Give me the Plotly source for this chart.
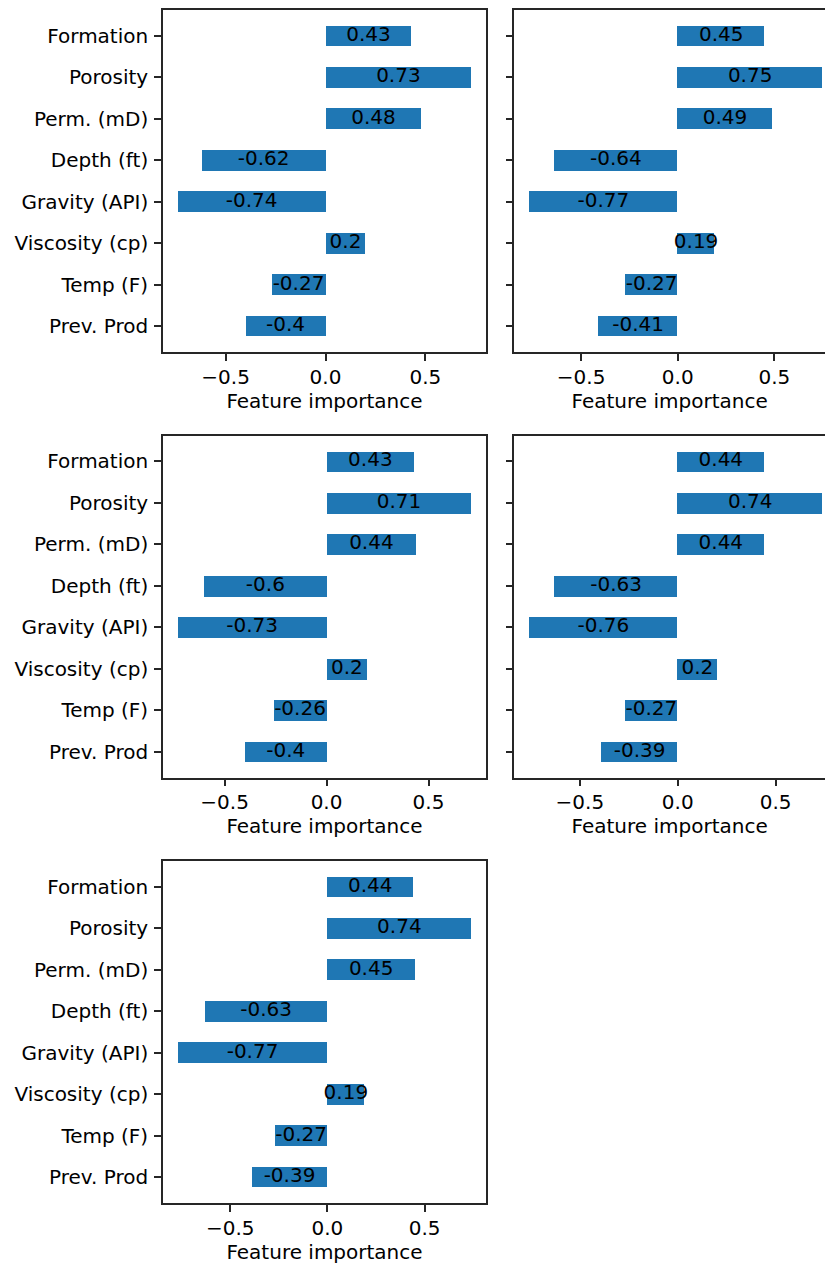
import plotly.graph_objects as go

# Features, listed from the top of each panel downwards
features = ["Formation", "Porosity", "Perm. (mD)", "Depth (ft)",
            "Gravity (API)", "Viscosity (cp)", "Temp (F)", "Prev. Prod"]

# Feature importance for each of the five models
model_1 = [0.43, 0.73, 0.48, -0.62, -0.74, 0.2, -0.27, -0.4]
model_2 = [0.45, 0.75, 0.49, -0.64, -0.77, 0.19, -0.27, -0.41]
model_3 = [0.43, 0.71, 0.44, -0.6, -0.73, 0.2, -0.26, -0.4]
model_4 = [0.44, 0.74, 0.44, -0.63, -0.76, 0.2, -0.27, -0.39]
model_5 = [0.44, 0.74, 0.45, -0.63, -0.77, 0.19, -0.27, -0.39]

x_ticks = [-0.5, 0.0, 0.5]
x_title = "Feature importance"

W, H = 825, 1264
FONT = "DejaVu Sans"
FS = 20
BAR = "#1f77b4"
INK = "#262626"

# panel frames in pixels: (left, top), width and height shared
panel_w, panel_h = 323, 342
frames = [(163, 10), (514.3, 10), (163, 435.5), (514.3, 435.5), (163, 861)]
models = [model_1, model_2, model_3, model_4, model_5]

# categories from bottom to top
cat_order = features[::-1]

fig = go.Figure()
layout = {}
for i, (vals, (left, top)) in enumerate(zip(models, frames)):
    n = i + 1
    xa = "x" if n == 1 else f"x{n}"
    ya = "y" if n == 1 else f"y{n}"
    lo = min(0, min(vals))
    hi = max(0, max(vals))
    pad = 0.05 * (hi - lo)
    lo, hi = lo - pad, hi + pad

    x0 = left / W
    x1 = (left + panel_w) / W
    if x1 > 1:
        # panel runs past the right edge of the page: clip the visible span
        hi = lo + (1 - x0) / (x1 - x0) * (hi - lo)
        x1 = 1.0
    y0 = 1 - (top + panel_h) / H
    y1 = 1 - top / H

    fig.add_trace(go.Bar(
        x=vals, y=features, orientation="h", width=0.5,
        marker=dict(color=BAR, line=dict(width=0)),
        xaxis=xa, yaxis=ya, hoverinfo="skip", showlegend=False,
    ))
    fig.add_trace(go.Scatter(
        x=[v / 2 for v in vals], y=features, mode="text",
        text=[f"{v:g}" for v in vals],
        textposition="middle center",
        textfont=dict(family=FONT, size=FS, color="black"),
        xaxis=xa, yaxis=ya, hoverinfo="skip", showlegend=False,
        cliponaxis=False,
    ))

    left_col = left < 300
    layout["xaxis" if n == 1 else f"xaxis{n}"] = dict(
        domain=[x0, x1], range=[lo, hi], anchor=ya,
        tickvals=x_ticks, tickformat=".1f",
        ticks="outside", ticklen=7, tickwidth=1.6, tickcolor=INK,
        showline=True, linewidth=1.6, linecolor=INK, mirror=True,
        showgrid=False, zeroline=False,
        ticklabelstandoff=-1,
        tickfont=dict(family=FONT, size=FS, color="black"),
        title=dict(text=x_title, standoff=5,
                   font=dict(family=FONT, size=FS, color="black")),
    )
    layout["yaxis" if n == 1 else f"yaxis{n}"] = dict(
        domain=[y0, y1], anchor=xa, type="category",
        categoryorder="array", categoryarray=cat_order,
        range=[-0.625, 7.625],
        ticks="outside", ticklen=7, tickwidth=1.6, tickcolor=INK,
        showline=True, linewidth=1.6, linecolor=INK, mirror=left_col,
        showgrid=False, zeroline=False, showticklabels=left_col,
        ticklabelstandoff=2,
        tickfont=dict(family=FONT, size=FS, color="black"),
    )

fig.update_layout(
    width=W, height=H,
    margin=dict(l=0, r=0, t=0, b=0),
    paper_bgcolor="white", plot_bgcolor="white",
    font=dict(family=FONT, size=FS, color="black"),
    bargap=0,
    **layout,
)

fig.write_html("out.html")
